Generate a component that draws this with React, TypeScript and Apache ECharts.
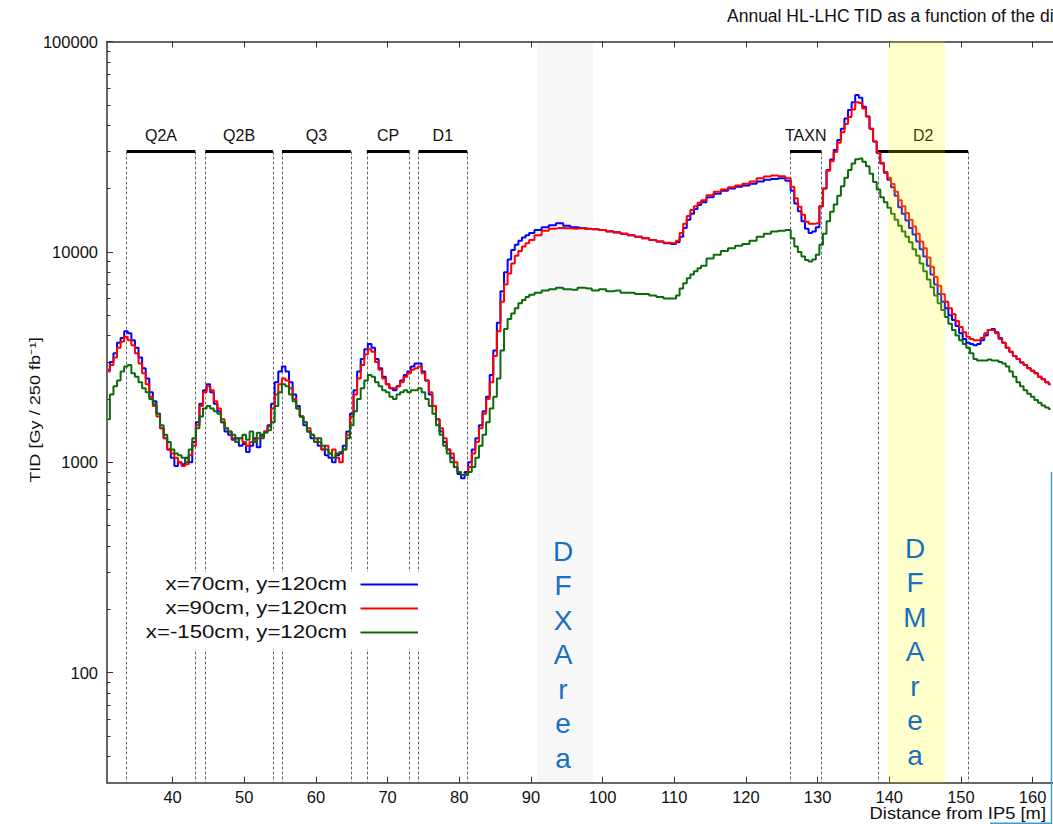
import React, { useEffect, useRef } from "react";
import * as echarts from "echarts";

const FONT = "'Liberation Sans', Arial, Helvetica, sans-serif";

function steps(from: number, to: number, step: number): number[] {
  const out: number[] = [];
  const n = Math.round((to - from) / step);
  for (let i = 0; i <= n; i++) out.push(+(from + i * step).toFixed(2));
  return out;
}

// bin centres of the dose profile [m]
const DISTANCE: number[] = [
  ...steps(31, 90, 0.5),
  ...steps(91, 110, 1),
  ...steps(110.5, 114, 0.5),
  ...steps(115, 126, 1),
  ...steps(126.5, 162.5, 0.5),
];

const SERIES_NAMES = ["x=70cm, y=120cm", "x=90cm, y=120cm", "x=-150cm, y=120cm"];

// TID [Gy / 250 fb-1]
const TID_X70: number[] = [
  2750, 3000, 3300, 3700, 3900, 4200, 4100, 3800, 3500, 3150,
  2800, 2500, 2150, 1950, 1700, 1450, 1300, 1150, 1050, 960,
  1000, 980, 1050, 1000, 1250, 1550, 1900, 2200, 2350, 2150,
  1900, 1750, 1550, 1400, 1350, 1280, 1300, 1200, 1220, 1120,
  1200, 1300, 1180, 1350, 1400, 1500, 1900, 2400, 2700, 2850,
  2700, 2400, 2100, 1850, 1650, 1500, 1400, 1300, 1250, 1200,
  1150, 1080, 1050, 1000, 1080, 1100, 1200, 1400, 1700, 2200,
  2700, 3100, 3450, 3650, 3500, 3100, 2800, 2550, 2350, 2250,
  2200, 2300, 2450, 2600, 2700, 2850, 2950, 2950, 2700, 2450,
  2100, 1850, 1600, 1400, 1250, 1150, 1050, 950, 880, 840,
  900, 1000, 1150, 1300, 1500, 1750, 2050, 2600, 3400, 4600,
  6500, 8000, 9200, 10200, 10800, 11300, 11700, 12000, 12300,
  12700, 13100, 13400, 13700, 13300, 13100, 13000, 12900, 12800, 12700,
  12550, 12400, 12200, 12000, 11800, 11600, 11400, 11200, 11000, 10900,
  11100, 11800, 13000, 14200, 15200, 16000, 16700, 17200,
  18200, 18900, 19500, 20000, 20400, 20700, 21100, 21600, 22000, 22200, 22400, 21800,
  19500, 17000, 15600, 14000, 12900, 12300, 12500, 13100, 16500, 20000,
  24500, 27500, 30500, 34000, 38500, 43000, 47300, 51500, 55700, 54000,
  49000, 44000, 38500, 33500, 29500, 26300, 23800, 22000, 20300, 18500,
  16300, 15200, 14100, 13000, 12100, 11200, 10300, 9500, 8600, 7800,
  7000, 6300, 5800, 5400, 5000, 4750, 4450, 4100, 3850, 3700,
  3650, 3600, 3650, 3800, 4000, 4250, 4300, 4150, 3900, 3700,
  3500, 3350, 3200, 3100, 2980, 2900, 2800, 2720, 2650, 2550,
  2480, 2400, 2350,
];

const TID_X90: number[] = [
  2700, 2900, 3150, 3500, 3750, 3950, 3800, 3600, 3300, 2950,
  2650, 2350, 2050, 1850, 1650, 1450, 1300, 1150, 1100, 1050,
  1000, 960, 980, 1080, 1200, 1500, 1850, 2150, 2300, 2200,
  1950, 1800, 1600, 1450, 1400, 1300, 1250, 1300, 1250, 1200,
  1250, 1280, 1300, 1330, 1400, 1480, 1800, 2100, 2350, 2500,
  2450, 2250, 2000, 1800, 1650, 1550, 1450, 1350, 1300, 1250,
  1150, 1200, 1100, 1150, 1050, 1000, 1150, 1350, 1650, 2100,
  2500, 2900, 3250, 3450, 3350, 3000, 2750, 2500, 2350, 2250,
  2250, 2300, 2400, 2550, 2650, 2750, 2800, 2850, 2650, 2450,
  2150, 1850, 1600, 1450, 1300, 1150, 1100, 1000, 900, 870,
  880, 950, 1100, 1250, 1450, 1700, 2000, 2400, 3200, 4200,
  5800, 7000, 7900, 8800, 9600, 10100, 10600, 11000, 11400,
  12000, 12600, 12900, 13000, 12950, 12900, 12950, 12850, 12800, 12700,
  12500, 12350, 12200, 12000, 11800, 11600, 11400, 11200, 11050, 11000,
  11300, 12300, 13600, 14800, 15800, 16500, 17100, 17600,
  18600, 19300, 19800, 20300, 20700, 21100, 21600, 22400, 22800, 23100, 22900, 22400,
  20400, 18000, 16400, 15000, 13900, 13600, 13600, 13700, 16500, 20000,
  24300, 27000, 29800, 33000, 37000, 40500, 43800, 47500, 51500, 51000,
  48000, 44000, 38500, 33500, 29500, 26500, 24000, 22500, 21000, 19300,
  17600, 16500, 15300, 14200, 13200, 12200, 11200, 10400, 9400, 8500,
  7600, 6900, 6300, 5800, 5400, 5050, 4700, 4400, 4150, 3950,
  3850, 3800, 3800, 3900, 4100, 4250, 4250, 4100, 3850, 3700,
  3500, 3350, 3200, 3100, 2980, 2900, 2800, 2720, 2650, 2550,
  2480, 2400, 2350,
];

const TID_XM150: number[] = [
  1600, 2100, 2300, 2450, 2700, 2850, 2900, 2650, 2550, 2400,
  2250, 2150, 2000, 1900, 1700, 1500, 1350, 1250, 1150, 1100,
  1080, 1050, 1000, 1150, 1300, 1450, 1650, 1800, 1850, 1800,
  1750, 1700, 1550, 1450, 1400, 1350, 1250, 1300, 1350, 1280,
  1400, 1250, 1380, 1300, 1380, 1420, 1550, 1850, 2150, 2350,
  2300, 2100, 1950, 1800, 1650, 1550, 1400, 1350, 1250, 1300,
  1200, 1150, 1100, 1050, 1100, 1120, 1150, 1300, 1500, 1750,
  2000, 2250, 2450, 2600, 2550, 2400, 2300, 2200, 2150, 2050,
  2000, 2100, 2150, 2200, 2150, 2200, 2200, 2250, 2150, 2000,
  1850, 1700, 1500, 1350, 1200, 1100, 1000, 950, 900, 870,
  870, 900, 950, 1050, 1200, 1350, 1550, 1800, 2050, 2500,
  3400, 4300, 4800, 5100, 5400, 5700, 5900, 6100, 6250,
  6400, 6550, 6650, 6750, 6650, 6600, 6750, 6700, 6550, 6650,
  6500, 6550, 6400, 6400, 6300, 6300, 6200, 6100, 6000, 6000,
  6200, 6700, 7100, 7500, 7800, 8100, 8350, 8600,
  9300, 9700, 10100, 10400, 10700, 10900, 11300, 11800, 12200, 12500, 12600, 12700,
  11600, 10600, 10000, 9500, 9150, 9000, 9200, 9700, 10800, 12200,
  14000, 15500, 16800, 18500, 20500, 22500, 24500, 26300, 27600, 27800,
  26800, 25500, 23500, 21500, 19800, 18200, 17200, 16200, 15200, 14200,
  13300, 12500, 11800, 11100, 10300, 9600, 8800, 8100, 7400, 6800,
  6200, 5700, 5300, 4900, 4550, 4250, 4000, 3800, 3650, 3500,
  3300, 3100, 3050, 3050, 3050, 3080, 3050, 3050, 3000, 2950,
  2850, 2700, 2550, 2400, 2300, 2200, 2120, 2050, 1980, 1920,
  1860, 1820, 1790,
];

// magnet / element extents [m]
const ELEMENT_NAMES = ["Q2A", "Q2B", "Q3", "CP", "D1", "TAXN", "D2"];
const ELEMENT_START = [33.6, 44.56, 55.26, 67.11, 74.31, 126.15, 138.45];
const ELEMENT_END = [43.17, 54.0, 64.88, 73.05, 81.1, 130.55, 151.0];
const ELEMENT_LEVEL = 30000;

// shaded areas [m]
const DFX_AREA = [90.9, 98.7];
const DFM_AREA = [139.86, 147.77];

const X_MIN = 30.85;
const X_MAX = 162.85;
const Y_MIN = 30;
const Y_MAX = 100000;
const X_TICKS = [40, 50, 60, 70, 80, 90, 100, 110, 120, 130, 140, 150, 160];
const Y_MAJOR_TICKS = [100, 1000, 10000, 100000];
const Y_MINOR_TICKS = [
  40, 50, 60, 70, 80, 90,
  200, 300, 400, 500, 600, 700, 800, 900,
  2000, 3000, 4000, 5000, 6000, 7000, 8000, 9000,
  20000, 30000, 40000, 50000, 60000, 70000, 80000, 90000,
];

const TITLE = "Annual HL-LHC TID as a function of the di";
const X_NAME = "Distance from IP5 [m]";
const Y_NAME = "TID [Gy / 250 fb\u207B\u00B9]";

const COLORS = ["#0000ff", "#ff0000", "#0a6b0a"];
const AXIS_COLOR = "#333";
const AREA_TEXT_COLOR = "#1a6fbf";

export default function App() {
  const ref = useRef<HTMLDivElement>(null);

  useEffect(() => {
    if (!ref.current) return;
    const chart = echarts.init(ref.current, null, { renderer: "svg" });
    const seriesValues = [TID_X70, TID_X90, TID_XM150];

    const dashed: any[] = [];
    const bars: any[] = [];
    ELEMENT_NAMES.forEach((name, i) => {
      [ELEMENT_START[i], ELEMENT_END[i]].forEach((x) => {
        dashed.push([{ coord: [x, ELEMENT_LEVEL] }, { coord: [x, Y_MIN] }]);
      });
      const ls = { color: "#000", type: "solid", width: 3 };
      const lb = {
        show: true,
        position: "insideMiddleTop",
        distance: 8,
        formatter: name,
        fontSize: 16,
        color: "#111",
        fontFamily: FONT,
      };
      bars.push([
        { name, coord: [ELEMENT_START[i], ELEMENT_LEVEL], lineStyle: ls, label: lb },
        { coord: [ELEMENT_END[i], ELEMENT_LEVEL], lineStyle: ls, label: lb },
      ]);
    });

    const lineSeries = SERIES_NAMES.map((name, k) => ({
      name,
      type: "line",
      step: "middle",
      showSymbol: false,
      symbol: "none",
      data: DISTANCE.map((d, i) => [d, seriesValues[k][i]]),
      lineStyle: { color: COLORS[k], width: 2 },
      itemStyle: { color: COLORS[k] },
      z: 2,
      silent: true,
    }));

    const legendRows = [583, 607, 631];
    const legendElements: any[] = [
      { type: "rect", shape: { x: 134, y: 572, width: 286, height: 77 }, style: { fill: "#fff" }, z: 50 },
    ];
    SERIES_NAMES.forEach((name, k) => {
      legendElements.push({
        type: "text",
        x: 347,
        y: legendRows[k],
        scaleX: 1.17,
        z: 51,
        style: {
          text: name,
          fontSize: 19,
          fontFamily: FONT,
          fill: "#111",
          align: "right",
          verticalAlign: "middle",
        },
      });
      legendElements.push({
        type: "line",
        z: 51,
        shape: { x1: 360.5, y1: legendRows[k] + 1.5, x2: 418, y2: legendRows[k] + 1.5 },
        style: { stroke: COLORS[k], lineWidth: 2 },
      });
    });

    const areaText = (txt: string, x: number, y: number) => ({
      type: "text",
      x,
      y,
      z: 60,
      style: {
        text: txt.split("").join("\n"),
        fontSize: 28,
        lineHeight: 34.5,
        fontFamily: FONT,
        fill: AREA_TEXT_COLOR,
        align: "center",
        verticalAlign: "top",
      },
    });

    const option: any = {
      animation: false,
      backgroundColor: "#fff",
      textStyle: { fontFamily: FONT },
      title: {
        text: TITLE,
        left: 727,
        top: 7,
        padding: 0,
        textStyle: { fontSize: 17.5, fontWeight: "normal", color: "#111", fontFamily: FONT },
      },
      grid: { left: 107, right: 0, top: 41.5, bottom: 41.3, containLabel: false, outerBoundsMode: "none" },
      xAxis: [
        {
          type: "value",
          min: X_MIN,
          max: X_MAX,
          position: "bottom",
          axisLine: { show: true, lineStyle: { color: AXIS_COLOR, width: 1.5 } },
          axisTick: { show: true, inside: true, length: 6, customValues: X_TICKS, lineStyle: { color: AXIS_COLOR } },
          axisLabel: { show: true, customValues: X_TICKS, fontSize: 16.5, color: "#111", margin: 6, fontFamily: FONT },
          splitLine: { show: false },
        },
        {
          type: "value",
          min: X_MIN,
          max: X_MAX,
          position: "top",
          axisLine: { show: true, lineStyle: { color: AXIS_COLOR, width: 1.5 } },
          axisTick: { show: true, inside: true, length: 6, customValues: X_TICKS, lineStyle: { color: AXIS_COLOR } },
          axisLabel: { show: false },
          splitLine: { show: false },
        },
      ],
      yAxis: [
        {
          type: "log",
          min: Y_MIN,
          max: Y_MAX,
          position: "left",
          axisLine: { show: true, lineStyle: { color: AXIS_COLOR, width: 1.5 } },
          axisTick: { show: true, inside: true, length: 6, customValues: Y_MAJOR_TICKS, lineStyle: { color: AXIS_COLOR } },
          axisLabel: {
            show: true,
            customValues: Y_MAJOR_TICKS,
            formatter: (v: number) => String(Math.round(v)),
            fontSize: 16.5,
            color: "#111",
            margin: 9,
            fontFamily: FONT,
          },
          splitLine: { show: false },
        },
        {
          type: "log",
          min: Y_MIN,
          max: Y_MAX,
          position: "left",
          axisLine: { show: false },
          axisTick: { show: true, inside: true, length: 3.5, customValues: Y_MINOR_TICKS, lineStyle: { color: AXIS_COLOR } },
          axisLabel: { show: false },
          splitLine: { show: false },
        },
      ],
      series: [
        {
          name: "elements",
          type: "line",
          data: [],
          silent: true,
          markArea: {
            silent: true,
            z: 0,
            itemStyle: { color: "rgba(0,0,0,0.03)" },
            data: [[{ xAxis: DFX_AREA[0] }, { xAxis: DFX_AREA[1] }]],
          },
          markLine: {
            silent: true,
            z: 1,
            symbol: ["none", "none"],
            lineStyle: { color: "#666", type: [3, 2], width: 1 },
            label: { show: false },
            emphasis: { disabled: true },
            data: [...dashed, ...bars],
          },
        },
        ...lineSeries,
        {
          name: "D2 band",
          type: "line",
          data: [],
          silent: true,
          markArea: {
            silent: true,
            z: 10,
            itemStyle: { color: "rgba(255,255,0,0.2)" },
            data: [[{ xAxis: DFM_AREA[0] }, { xAxis: DFM_AREA[1] }]],
          },
        },
      ],
      graphic: [
        areaText("DFXArea", 563, 534),
        areaText("DFMArea", 915, 531),
        ...legendElements,
        {
          type: "text",
          x: 1046,
          y: 813,
          scaleX: 1.08,
          z: 60,
          style: {
            text: X_NAME,
            fontSize: 17,
            fontFamily: FONT,
            fill: "#111",
            align: "right",
            verticalAlign: "middle",
          },
        },
        {
          type: "text",
          x: 35,
          y: 410,
          rotation: Math.PI / 2,
          scaleX: 1.25,
          z: 60,
          style: {
            text: Y_NAME,
            fontSize: 14.5,
            fontFamily: FONT,
            fill: "#111",
            align: "center",
            verticalAlign: "middle",
          },
        },
        {
          type: "polyline",
          z: 60,
          shape: { points: [[1051.5, 472], [1051.5, 823.3], [990, 823.3]] },
          style: { stroke: "#3a9fd0", lineWidth: 1.5, fill: null },
        },
      ],
    };

    chart.setOption(option);
    return () => chart.dispose();
  }, []);

  return (
    <div
      ref={ref}
      style={{ position: "absolute", left: 0, top: 0, width: 1053, height: 824, background: "#fff" }}
    />
  );
}
